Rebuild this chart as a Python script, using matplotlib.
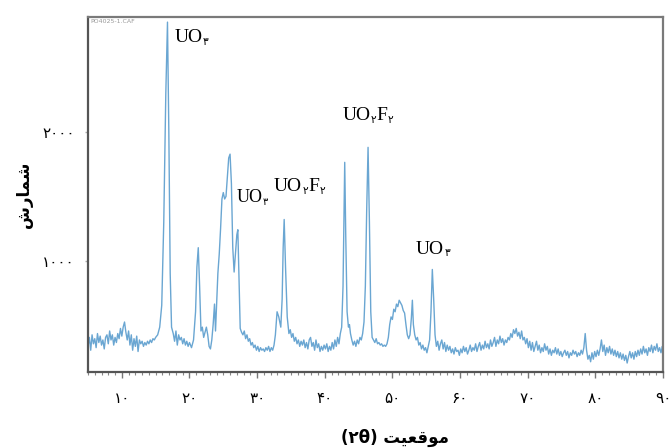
import matplotlib
matplotlib.use("Agg")
import matplotlib.pyplot as plt
from matplotlib.ticker import MultipleLocator, FixedLocator

# ---------------- data ----------------
xrd_points = [
    (5.0, 330), (5.2, 400), (5.4, 300), (5.6, 420), (5.8, 350), (6.0, 390), (6.2, 320), (6.4, 430),
    (6.6, 360), (6.8, 410), (7.0, 340), (7.2, 380), (7.4, 310), (7.6, 400), (7.8, 420), (8.0, 350),
    (8.2, 450), (8.4, 380), (8.6, 420), (8.8, 340), (9.0, 400), (9.2, 360), (9.4, 430), (9.6, 390),
    (9.8, 470), (10.0, 410), (10.2, 480), (10.4, 520), (10.6, 440), (10.8, 380), (11.0, 450), (11.2, 340),
    (11.4, 420), (11.6, 300), (11.8, 390), (12.0, 330), (12.2, 410), (12.4, 290), (12.6, 380), (12.8, 350),
    (13.0, 370), (13.2, 330), (13.4, 360), (13.6, 340), (13.8, 370), (14.0, 350), (14.2, 380), (14.4, 360),
    (14.6, 390), (14.8, 380), (15.0, 400), (15.3, 420), (15.6, 480), (15.9, 650), (16.2, 1300), (16.5, 2300),
    (16.75, 2860), (16.95, 2000), (17.15, 900), (17.35, 480), (17.6, 430), (17.8, 370), (18.0, 450), (18.2, 340),
    (18.4, 420), (18.6, 380), (18.8, 400), (19.0, 350), (19.2, 390), (19.4, 340), (19.6, 370), (19.8, 330),
    (20.0, 360), (20.3, 320), (20.6, 380), (20.9, 600), (21.1, 950), (21.3, 1100), (21.5, 800), (21.7, 450),
    (21.9, 480), (22.1, 400), (22.3, 440), (22.5, 480), (22.7, 420), (22.9, 330), (23.1, 310), (23.3, 380),
    (23.5, 500), (23.7, 660), (23.85, 450), (24.0, 650), (24.2, 900), (24.4, 1050), (24.6, 1250), (24.8, 1480),
    (25.0, 1530), (25.2, 1480), (25.4, 1500), (25.6, 1650), (25.8, 1800), (26.0, 1830), (26.2, 1600), (26.4, 1100),
    (26.6, 910), (26.8, 1050), (27.0, 1200), (27.15, 1240), (27.3, 900), (27.5, 470), (27.7, 440), (27.9, 420),
    (28.1, 450), (28.3, 390), (28.5, 420), (28.7, 370), (28.9, 390), (29.1, 340), (29.3, 360), (29.5, 320),
    (29.7, 340), (29.9, 300), (30.1, 330), (30.3, 290), (30.5, 320), (30.7, 300), (30.9, 310), (31.1, 290),
    (31.3, 320), (31.5, 300), (31.7, 330), (31.9, 290), (32.1, 320), (32.3, 300), (32.5, 340), (32.7, 420),
    (32.95, 600), (33.2, 560), (33.5, 480), (33.7, 700), (33.85, 1100), (34.0, 1320), (34.2, 950), (34.45, 560),
    (34.7, 430), (34.9, 460), (35.1, 400), (35.3, 430), (35.5, 370), (35.7, 400), (35.9, 350), (36.1, 380),
    (36.3, 330), (36.5, 370), (36.7, 340), (36.9, 380), (37.1, 320), (37.3, 360), (37.5, 310), (37.7, 380),
    (37.9, 400), (38.1, 330), (38.3, 360), (38.5, 300), (38.7, 380), (38.9, 320), (39.1, 350), (39.3, 290),
    (39.5, 330), (39.7, 300), (39.9, 340), (40.1, 310), (40.3, 350), (40.5, 290), (40.7, 330), (40.9, 300),
    (41.1, 360), (41.3, 310), (41.5, 380), (41.7, 330), (41.9, 400), (42.1, 350), (42.3, 430), (42.5, 480),
    (42.7, 800), (42.85, 1400), (42.95, 1766), (43.1, 1200), (43.3, 600), (43.5, 480), (43.65, 500), (43.8, 430),
    (44.0, 380), (44.2, 340), (44.4, 370), (44.6, 330), (44.8, 380), (45.0, 350), (45.2, 400), (45.4, 380),
    (45.6, 430), (45.8, 520), (46.0, 800), (46.2, 1400), (46.4, 1883), (46.6, 1300), (46.8, 600), (47.0, 400),
    (47.2, 380), (47.4, 360), (47.6, 390), (47.8, 350), (48.0, 360), (48.2, 340), (48.4, 350), (48.6, 330),
    (48.8, 340), (49.0, 330), (49.2, 350), (49.4, 400), (49.6, 500), (49.8, 560), (50.0, 540), (50.2, 620),
    (50.4, 600), (50.6, 660), (50.8, 640), (51.0, 690), (51.2, 670), (51.4, 650), (51.6, 610), (51.8, 590),
    (52.0, 500), (52.2, 420), (52.4, 390), (52.6, 420), (52.8, 550), (52.95, 690), (53.1, 500), (53.3, 420),
    (53.5, 380), (53.7, 400), (53.9, 340), (54.1, 360), (54.3, 310), (54.5, 340), (54.7, 300), (54.9, 320),
    (55.1, 280), (55.3, 330), (55.5, 380), (55.7, 600), (55.9, 930), (56.1, 700), (56.3, 420), (56.5, 330),
    (56.7, 370), (56.9, 300), (57.1, 350), (57.3, 380), (57.5, 310), (57.7, 360), (57.9, 290), (58.1, 340),
    (58.3, 300), (58.5, 330), (58.7, 280), (58.9, 310), (59.1, 270), (59.3, 320), (59.5, 290), (59.7, 300),
    (59.9, 260), (60.1, 310), (60.3, 280), (60.5, 330), (60.7, 290), (60.9, 320), (61.1, 270), (61.3, 300),
    (61.5, 340), (61.7, 290), (61.9, 320), (62.1, 300), (62.3, 350), (62.5, 290), (62.7, 330), (62.9, 360),
    (63.1, 300), (63.3, 340), (63.5, 310), (63.7, 370), (63.9, 320), (64.1, 350), (64.3, 310), (64.5, 380),
    (64.7, 330), (64.9, 360), (65.1, 400), (65.3, 330), (65.5, 380), (65.7, 350), (65.9, 410), (66.1, 360),
    (66.3, 390), (66.5, 340), (66.7, 380), (66.9, 360), (67.1, 400), (67.3, 380), (67.5, 430), (67.7, 400),
    (67.9, 460), (68.1, 430), (68.3, 470), (68.5, 410), (68.7, 440), (68.9, 390), (69.1, 450), (69.3, 380),
    (69.5, 400), (69.7, 350), (69.9, 390), (70.1, 320), (70.3, 370), (70.5, 300), (70.7, 360), (70.9, 290),
    (71.1, 330), (71.3, 370), (71.5, 300), (71.7, 340), (71.9, 280), (72.1, 320), (72.3, 290), (72.5, 350),
    (72.7, 300), (72.9, 330), (73.1, 270), (73.3, 310), (73.5, 260), (73.7, 300), (73.9, 280), (74.1, 320),
    (74.3, 270), (74.5, 310), (74.7, 260), (74.9, 290), (75.1, 250), (75.3, 280), (75.5, 300), (75.7, 260),
    (75.9, 290), (76.1, 240), (76.3, 280), (76.5, 260), (76.7, 300), (76.9, 270), (77.1, 290), (77.3, 250),
    (77.5, 280), (77.7, 260), (77.9, 300), (78.1, 270), (78.3, 320), (78.5, 430), (78.7, 300), (78.9, 230),
    (79.1, 260), (79.3, 210), (79.5, 280), (79.7, 230), (79.9, 290), (80.1, 250), (80.3, 300), (80.5, 260),
    (80.7, 310), (80.9, 380), (81.1, 290), (81.3, 340), (81.5, 260), (81.7, 320), (81.9, 280), (82.1, 330),
    (82.3, 270), (82.5, 310), (82.7, 260), (82.9, 300), (83.1, 250), (83.3, 290), (83.5, 240), (83.7, 280),
    (83.9, 230), (84.1, 270), (84.3, 220), (84.5, 260), (84.7, 200), (84.9, 250), (85.1, 290), (85.3, 240),
    (85.5, 280), (85.7, 230), (85.9, 290), (86.1, 250), (86.3, 300), (86.5, 260), (86.7, 310), (86.9, 270),
    (87.1, 330), (87.3, 280), (87.5, 310), (87.7, 260), (87.9, 320), (88.1, 290), (88.3, 340), (88.5, 280),
    (88.7, 330), (88.9, 300), (89.1, 350), (89.3, 290), (89.5, 320), (89.7, 280), (89.9, 330), (90.0, 310),
]
two_theta = [p[0] for p in xrd_points]
counts = [p[1] for p in xrd_points]

x_ticks = [10, 20, 30, 40, 50, 60, 70, 80, 90]
x_tick_labels = ["۱۰", "۲۰", "۳۰", "۴۰", "۵۰", "۶۰", "۷۰", "۸۰", "۹۰"]
y_ticks = [1000, 2000]
y_tick_labels = ["۱۰۰۰", "۲۰۰۰"]

# peak labels: (2theta, counts, [(text, is_subscript), ...], fontsize)
peak_labels = [
    (17.8, 2672, [("UO", False), ("۳", True)], 14),
    (26.9, 1422, [("UO", False), ("۳", True)], 13),
    (32.5, 1508, [("UO", False), ("۲", True), ("F", False), ("۲", True)], 14),
    (42.6, 2062, [("UO", False), ("۲", True), ("F", False), ("۲", True)], 14),
    (53.5, 1023, [("UO", False), ("۳", True)], 14),
]

# Persian labels in visual (presentation form) order
y_label = "\uFEB5\uFEAD\uFE8E\uFEE4\uFEB7"                    # شمارش
x_label = "(۲θ) " + "\uFE96\uFEF4\uFECC\uFED7\uFEEE\uFEE3"     # موقعیت (۲θ)

# ---------------- figure ----------------
fig = plt.figure(figsize=(6.7, 4.48), dpi=100)
ax = fig.add_axes([88 / 670, 1 - 372 / 448, (663 - 88) / 670, (372 - 17) / 448])

ax.plot(two_theta, counts, color="#6aa6d2", lw=1.0)

ax.set_xlim(5, 90)
ax.set_ylim(130, 2900)

ax.xaxis.set_major_locator(FixedLocator(x_ticks))
ax.set_xticklabels(x_tick_labels)
ax.xaxis.set_minor_locator(MultipleLocator(1))
ax.yaxis.set_major_locator(FixedLocator(y_ticks))
ax.set_yticklabels(y_tick_labels)

tick_font = ["DejaVu Sans"]
for lab in ax.get_xticklabels() + ax.get_yticklabels():
    lab.set_family(tick_font)
    lab.set_fontsize(11)

ax.tick_params(axis="x", which="major", direction="out", length=4, width=1, color="#777777", pad=10)
ax.tick_params(axis="x", which="minor", direction="out", length=2, width=0.8, color="#888888")
ax.tick_params(axis="y", which="major", direction="out", length=2.5, width=1, color="#aaaaaa", pad=7)

for side in ["left", "bottom"]:
    ax.spines[side].set_color("#555555")
    ax.spines[side].set_linewidth(1.6)
for side in ["top", "right"]:
    ax.spines[side].set_color("#7a7a7a")
    ax.spines[side].set_linewidth(1.6)

ax.set_ylabel(y_label, family=["DejaVu Sans"], fontweight="bold", fontsize=12)
ax.yaxis.set_label_coords(-0.096, 0.5)
ax.set_xlabel(x_label, family=["DejaVu Sans"], fontweight="bold", fontsize=12)
ax.xaxis.set_label_coords(0.534, -0.16)

ax.text(0.004, 0.995, "PO4025-1.CAF", transform=ax.transAxes, fontsize=4.5,
        color="#999999", ha="left", va="top")

serif = ["Liberation Serif", "DejaVu Sans"]


def chem_label(x, y, parts, size):
    base = ax.text(x, y, parts[0][0], fontsize=size, family=serif,
                   ha="left", va="bottom", color="black")
    prev = base
    for txt, sub in parts[1:]:
        if sub:
            prev = ax.annotate(txt, xy=(1, 0), xycoords=(prev, base),
                               xytext=(0.3, -0.5), textcoords="offset points",
                               fontsize=size * 0.55, family=serif,
                               ha="left", va="bottom", color="black")
        else:
            prev = ax.annotate(txt, xy=(1, 0), xycoords=(prev, base),
                               xytext=(0.3, 0), textcoords="offset points",
                               fontsize=size, family=serif,
                               ha="left", va="bottom", color="black")


for px, py, parts, size in peak_labels:
    chem_label(px, py, parts, size)

fig.savefig("out.png", dpi=100)
